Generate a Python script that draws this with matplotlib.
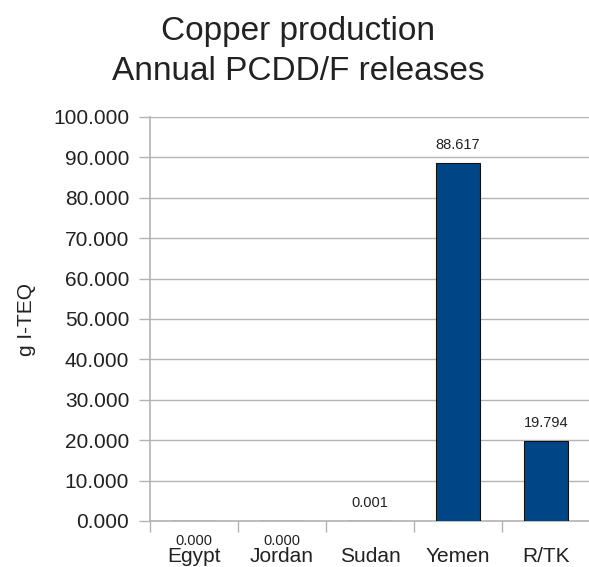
import matplotlib
matplotlib.use("Agg")
import matplotlib.pyplot as plt
import numpy as np

plt.rcParams['font.family'] = ['Liberation Sans', 'DejaVu Sans']

# Datos del gráfico
paises = ['Egypt', 'Jordan', 'Sudan', 'Yemen', 'R/TK']
emisiones = [0.0, 0.0, 0.001, 88.617, 19.794]
etiquetas = ['0.000', '0.000', '0.001', '88.617', '19.794']
ticks_y = [0, 10, 20, 30, 40, 50, 60, 70, 80, 90, 100]

W, H = 589, 567
fig = plt.figure(figsize=(W / 100, H / 100), dpi=100)
ax = fig.add_axes([150 / W, (H - 521) / H, 440 / W, (521 - 117) / H])

x = np.arange(len(paises))
ax.bar(x, emisiones, width=0.5, color='#004586', edgecolor='#111111', linewidth=0.8, zorder=3)

ax.set_xlim(-0.5, len(paises) - 0.5)
ax.set_ylim(0, 100)
ax.set_yticks(ticks_y)
ax.set_yticklabels([f'{t:.3f}' for t in ticks_y])
ax.set_xticks(x)
ax.set_xticklabels(paises)
ax.set_xticks(np.arange(len(paises) + 1) - 0.5, minor=True)

gris = '#b3b3b3'
ax.grid(axis='y', color=gris, linewidth=1, zorder=0)
for s in ['top', 'right']:
    ax.spines[s].set_visible(False)
for s in ['left', 'bottom']:
    ax.spines[s].set_color(gris)
    ax.spines[s].set_linewidth(1.2)

ax.tick_params(axis='y', length=8, width=1, color=gris, pad=7, labelsize=15, labelcolor='#222222')
ax.tick_params(axis='x', which='major', length=0, pad=18.5, labelsize=15, labelcolor='#222222')
ax.tick_params(axis='x', which='minor', length=8, width=1, color=gris)

# Etiquetas de valores
for xi, v, txt in zip(x, emisiones, etiquetas):
    if v > 0:
        ax.annotate(txt, (xi, v), xytext=(0, 8), textcoords='offset points',
                    ha='center', va='bottom', fontsize=10.5, color='#222222')
    else:
        ax.annotate(txt, (xi, 0), xytext=(0, -14.5), textcoords='offset points',
                    ha='center', va='center', fontsize=10.5, color='#222222',
                    annotation_clip=False)

ax.set_ylabel('g I-TEQ', fontsize=15, color='#222222', labelpad=12)

fig.text(298 / W, 1 - 16 / H, 'Copper production\nAnnual PCDD/F releases',
         ha='center', va='top', fontsize=24, color='#222222', linespacing=1.36)

fig.savefig('out.png', dpi=100)
